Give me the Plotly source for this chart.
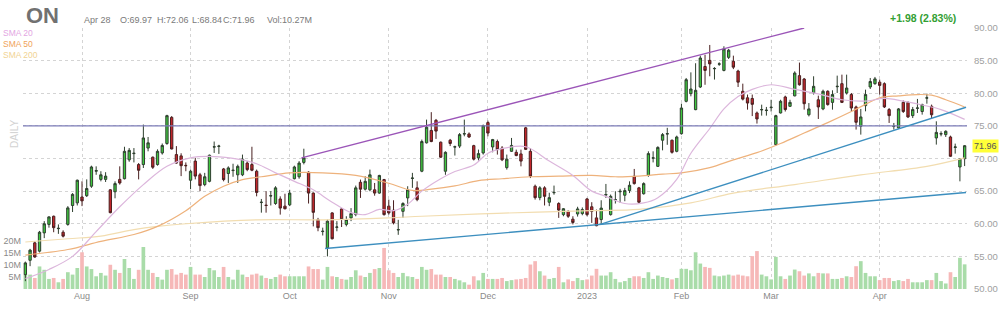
import plotly.graph_objects as go

# ---------------- data ----------------
opens = [
52.2, 54.4, 57.07, 55.8, 58.6, 59.9, 61.15, 59.25, 58.7, 59.9,
62.8, 63.2, 64.1, 64.3, 65.75, 68.05, 66.8, 66.8, 65.2, 64.9,
66.8, 66.9, 69.8, 70.75, 69.07, 69.07, 71.6, 70.2, 69.07, 70.85,
72.3, 76.3, 70.6, 70.4, 68.95, 66.67, 69.6, 67.5, 66.0, 66.5,
71.75, 71.85, 68.4, 67.7, 68.15, 67.5, 67.5, 69.3, 69.07, 68.05,
63.25, 62.85, 64.25, 63.1, 63.8, 62.7, 62.9, 66.9, 67.2, 69.4,
67.9, 64.7, 60.65, 58.8, 56.3, 61.66, 59.45, 62.27, 59.9, 60.9,
61.4, 66.36, 65.3, 65.2, 65.2, 64.7, 66.77, 62.7, 62.07, 59.05,
61.9, 63.96, 66.95, 65.5, 68.05, 72.4, 74.3, 75.85, 72.5, 68.05,
72.8, 71.75, 71.9, 73.75, 73.76, 71.97, 70.1, 70.85, 75.5, 71.77,
72.6, 71.6, 68.6, 71.1, 70.95, 70.7, 74.7, 71.1, 65.75, 64.0,
65.5, 63.3, 64.75, 63.1, 61.4, 61.9, 60.7, 61.5, 61.56, 63.8,
62.6, 60.9, 60.64, 64.4, 61.4, 63.65, 64.9, 64.37, 65.1, 67.28,
65.5, 64.6, 67.4, 70.05, 68.8, 72.8, 73.75, 72.8, 71.1, 73.8,
78.76, 79.94, 77.49, 80.96, 84.1, 85.04, 83.75, 84.45, 83.5, 85.5,
84.9, 83.4, 80.3, 79.3, 79.2, 76.98, 77.45, 77.35, 77.8, 72.13,
76.98, 79.43, 78.0, 79.6, 82.7, 82.18, 76.7, 80.04, 79.0, 77.6,
80.3, 78.6, 81.0, 81.47, 80.04, 79.8, 77.9, 74.94, 78.1, 80.96,
81.47, 81.7, 81.47, 77.5, 74.9, 74.68, 78.6, 78.6, 76.57, 77.7,
77.2, 79.25, 78.0, 73.15, 73.75, 73.66, 73.3, 71.7, 68.7, 69.97,
]
highs = [
54.2, 56.15, 57.3, 58.9, 60.4, 61.15, 61.25, 59.9, 59.0, 62.7,
64.7, 66.77, 66.5, 66.8, 68.9, 68.8, 68.05, 67.9, 65.3, 66.5,
68.8, 71.8, 71.6, 71.6, 69.3, 75.2, 73.3, 70.3, 71.4, 72.3,
76.7, 76.5, 71.9, 70.8, 69.4, 68.3, 70.1, 67.8, 67.8, 70.6,
72.6, 72.1, 68.55, 68.8, 69.2, 69.07, 70.6, 69.6, 71.8, 68.3,
63.8, 65.0, 65.0, 65.75, 64.2, 64.6, 65.2, 68.9, 69.6, 71.5,
68.05, 64.8, 60.9, 59.4, 60.65, 61.76, 60.4, 62.4, 61.15, 62.4,
65.85, 66.77, 67.28, 68.3, 66.25, 67.5, 66.87, 63.7, 63.6, 60.6,
63.3, 65.75, 67.8, 66.5, 72.9, 75.96, 77.1, 76.06, 72.6, 71.1,
73.0, 71.97, 73.9, 75.96, 74.0, 72.1, 71.36, 75.2, 75.8, 73.0,
72.9, 71.9, 70.6, 73.15, 71.36, 71.36, 74.85, 71.6, 66.0, 65.75,
65.75, 64.75, 65.85, 63.3, 62.4, 62.05, 61.15, 62.6, 62.5, 63.96,
63.3, 62.17, 63.6, 66.1, 64.47, 64.98, 65.35, 65.5, 66.5, 68.4,
65.65, 66.35, 71.1, 71.1, 71.87, 73.9, 74.7, 72.9, 73.5, 78.4,
82.34, 83.2, 84.6, 85.76, 85.9, 87.4, 84.0, 84.74, 87.2, 86.8,
85.76, 83.6, 81.47, 79.8, 79.8, 77.2, 78.25, 77.9, 79.0, 76.7,
79.0, 79.63, 79.0, 83.36, 84.7, 82.34, 78.5, 82.6, 79.63, 80.55,
80.45, 80.45, 82.7, 82.85, 82.85, 80.04, 78.1, 77.6, 80.55, 82.34,
82.5, 82.1, 81.67, 77.74, 75.45, 77.74, 78.9, 78.76, 77.9, 79.13,
78.4, 79.94, 78.26, 75.7, 74.17, 74.32, 73.5, 72.28, 69.98, 72.06,
]
lows = [
51.2, 53.5, 54.8, 55.6, 57.8, 59.4, 58.7, 58.45, 57.9, 59.7,
61.8, 62.8, 62.7, 64.1, 65.5, 67.5, 66.5, 66.4, 61.6, 63.9,
66.0, 66.8, 69.5, 69.4, 66.8, 68.55, 71.1, 68.4, 68.9, 70.6,
72.1, 71.4, 69.2, 67.3, 68.05, 65.3, 66.8, 65.0, 65.75, 66.35,
70.85, 70.7, 66.5, 66.25, 67.2, 66.25, 67.3, 68.05, 68.05, 64.2,
61.7, 61.7, 62.8, 62.9, 61.4, 62.2, 62.7, 66.8, 66.9, 69.1,
63.1, 59.6, 58.85, 58.2, 55.0, 57.6, 58.85, 59.5, 59.6, 60.4,
61.15, 63.96, 65.1, 64.98, 64.3, 64.6, 61.25, 61.4, 59.9, 58.3,
60.9, 62.7, 65.5, 63.45, 67.9, 72.3, 72.5, 73.0, 70.1, 67.5,
71.9, 70.45, 71.6, 73.4, 73.15, 69.7, 69.7, 70.6, 73.4, 70.95,
70.6, 69.6, 68.3, 71.0, 70.35, 68.8, 71.3, 67.0, 63.7, 63.6,
62.8, 62.7, 64.45, 60.9, 61.15, 60.9, 59.9, 61.1, 61.3, 61.15,
60.13, 59.62, 59.9, 63.96, 61.25, 63.1, 63.2, 63.45, 64.7, 66.0,
63.1, 64.47, 67.2, 69.4, 68.7, 71.25, 72.1, 70.75, 70.95, 73.66,
78.6, 79.53, 77.4, 80.8, 81.3, 82.6, 82.1, 84.2, 83.36, 85.25,
83.7, 80.96, 78.9, 77.49, 76.5, 75.35, 76.57, 76.57, 77.2, 71.97,
76.9, 77.2, 77.9, 79.53, 81.17, 77.49, 76.45, 79.8, 76.06, 77.4,
78.1, 77.49, 80.04, 78.5, 79.8, 77.23, 74.43, 73.66, 77.23, 80.65,
81.3, 79.8, 77.74, 75.45, 74.43, 74.53, 76.98, 76.2, 76.2, 76.98,
76.72, 78.4, 76.2, 72.13, 73.4, 73.3, 70.25, 70.75, 66.5, 68.84,
]
closes = [
54.0, 55.95, 54.9, 58.7, 60.0, 61.05, 59.4, 59.3, 58.1, 62.43,
64.5, 66.67, 63.5, 65.4, 68.7, 68.15, 67.5, 67.3, 61.7, 66.15,
66.25, 71.1, 71.25, 70.8, 68.2, 73.15, 72.4, 68.66, 71.1, 72.0,
76.57, 71.46, 69.3, 68.9, 68.9, 68.05, 67.3, 65.85, 67.2, 70.5,
71.8, 71.9, 66.76, 68.56, 68.2, 68.8, 69.9, 68.3, 68.2, 64.8,
63.3, 62.8, 64.3, 65.5, 62.4, 62.3, 64.7, 68.7, 69.3, 70.1,
64.7, 61.75, 59.4, 58.85, 60.4, 57.7, 59.5, 60.65, 60.65, 61.56,
65.5, 65.3, 66.5, 67.5, 64.7, 67.4, 61.4, 61.66, 60.13, 59.1,
63.1, 65.2, 67.0, 63.7, 72.6, 74.8, 72.6, 74.2, 70.2, 70.95,
72.3, 71.8, 73.66, 73.8, 73.3, 69.9, 70.75, 75.04, 73.9, 72.9,
71.36, 69.8, 69.9, 72.0, 70.45, 69.6, 71.4, 67.3, 64.0, 65.5,
64.2, 64.0, 64.8, 62.1, 62.3, 61.15, 60.2, 62.27, 62.17, 61.4,
61.9, 59.7, 62.4, 64.47, 64.2, 63.7, 64.98, 65.08, 65.9, 66.15,
63.3, 66.15, 70.75, 70.1, 71.7, 73.66, 73.8, 70.95, 73.3, 77.74,
82.08, 80.65, 80.45, 85.4, 83.5, 84.5, 83.8, 84.5, 86.8, 86.6,
84.0, 81.7, 79.1, 78.5, 78.3, 76.06, 77.5, 77.4, 77.85, 76.57,
78.77, 77.5, 78.6, 83.1, 81.3, 78.4, 77.6, 81.06, 77.9, 80.3,
78.26, 79.8, 81.06, 78.6, 80.8, 77.74, 75.55, 76.37, 79.8, 81.8,
82.2, 81.2, 77.9, 76.57, 74.94, 77.6, 77.2, 76.37, 77.5, 77.74,
78.25, 79.3, 76.7, 74.0, 73.8, 74.17, 70.34, 71.77, 69.98, 71.96,
]
volumes_m = [
6.0, 6.0, 4.6, 9.4, 8.0, 4.2, 4.6, 2.8, 4.2, 7.0,
6.0, 8.75, 15.3, 9.4, 8.3, 5.3, 6.7, 5.6, 10.1, 8.0,
6.7, 12.5, 8.75, 4.2, 8.0, 17.5, 8.0, 6.7, 5.0, 3.9,
8.0, 8.3, 6.0, 6.7, 6.0, 9.2, 6.0, 6.0, 5.0, 8.75,
7.8, 5.0, 9.2, 5.0, 3.9, 8.0, 6.0, 5.0, 6.0, 6.4,
5.6, 4.6, 4.2, 5.0, 6.0, 5.3, 5.3, 5.3, 5.3, 5.3,
9.4, 8.3, 8.3, 3.9, 9.2, 5.3, 5.0, 4.2, 3.9, 5.0,
7.8, 5.6, 5.0, 6.7, 8.3, 8.75, 17.1, 7.8, 6.7, 5.0,
6.7, 5.3, 5.0, 4.2, 9.2, 8.0, 8.3, 6.0, 6.0, 5.0,
5.0, 4.2, 3.6, 2.8, 1.8, 5.3, 3.6, 6.7, 4.2, 4.2,
4.2, 4.6, 3.3, 3.7, 4.0, 4.2, 4.6, 10.2, 11.6, 7.4,
5.6, 4.2, 4.6, 9.2, 2.8, 4.0, 3.3, 4.6, 3.7, 4.0,
5.6, 8.4, 5.6, 5.6, 7.0, 4.2, 2.8, 3.3, 4.6, 5.3,
5.3, 4.6, 7.0, 4.2, 5.6, 5.0, 4.6, 4.0, 4.6, 8.4,
8.4, 7.8, 15.3, 10.6, 9.2, 8.8, 5.6, 5.3, 5.6, 6.0,
5.6, 6.0, 5.6, 5.3, 13.7, 15.8, 6.0, 5.3, 4.0, 13.4,
5.3, 4.2, 5.6, 8.1, 7.4, 5.6, 6.5, 5.3, 6.7, 6.5,
6.5, 4.2, 4.2, 4.6, 5.3, 5.0, 9.5, 11.6, 6.7, 5.3,
5.3, 3.7, 4.6, 4.6, 3.3, 3.7, 3.3, 4.2, 2.8, 2.8,
2.8, 3.7, 3.7, 6.7, 3.3, 2.3, 7.0, 5.0, 13.0, 10.27,
]

# moving averages, read at sample days
sma20_x = [0, 5, 10, 15, 20, 25, 30, 35, 40, 45, 49, 53, 57, 61, 65, 69, 72, 75, 78, 81,
           84, 88, 91, 95, 98, 101, 106, 111, 116, 120, 123, 127, 131, 134, 138, 141, 145,
           148, 151, 154, 158, 163, 168, 173, 178, 182, 186, 190, 194, 199]
sma20_y = [51.6, 53.0, 55.0, 58.8, 62.6, 66.0, 68.8, 70.1, 70.3, 69.9, 69.2, 67.8, 66.5,
           65.2, 63.3, 61.7, 61.4, 62.2, 62.0, 63.0, 65.0, 66.9, 68.0, 69.0, 70.8, 71.5,
           71.8, 69.6, 67.4, 65.0, 64.2, 63.1, 63.2, 64.0, 66.8, 70.8, 74.6, 77.6, 79.5,
           80.6, 81.3, 80.6, 79.9, 79.0, 78.8, 79.2, 78.8, 78.2, 77.5, 76.0]
sma50_x = [0, 9, 16, 23, 28, 34, 38, 42, 46, 50, 56, 63, 70, 77, 82, 86, 91, 96, 101, 107,
           113, 120, 125, 130, 135, 139, 145, 150, 155, 160, 165, 170, 175, 178, 181, 185,
           189, 192, 195, 199]
sma50_y = [55.2, 56.05, 57.3, 58.35, 59.6, 62.0, 64.2, 65.75, 66.77, 67.2, 67.8, 67.8, 67.4,
           66.2, 65.1, 65.3, 65.8, 66.6, 66.9, 67.2, 67.3, 67.4, 67.2, 67.3, 67.6, 67.8,
           68.6, 69.8, 70.9, 72.3, 73.9, 75.5, 77.2, 78.3, 79.3, 79.6, 79.8, 79.7, 79.0, 77.9]
sma200_x = [0, 9, 16, 23, 28, 34, 49, 63, 77, 84, 100, 120, 130, 141, 150, 163, 177, 191, 199]
sma200_y = [57.2, 57.7, 58.1, 59.1, 59.6, 60.0, 60.6, 60.6, 60.9, 61.15, 61.6, 62.0, 62.2,
            63.2, 64.7, 66.0, 67.5, 68.8, 70.1]

# drawn trend lines (day index, price)
upper_channel_x = [58.5, 165.0]
upper_channel_y = [70.1, 90.0]
lower_support_x = [63.5, 199.3]
lower_support_y = [56.2, 64.8]
rising_support_x = [121.8, 199.3]
rising_support_y = [59.9, 77.85]
resistance_level = 75.0

month_ticks = [12, 35, 56, 77, 98, 119, 139, 158, 181]
month_labels = ["Aug", "Sep", "Oct", "Nov", "Dec", "2023", "Feb", "Mar", "Apr"]
price_ticks = [50, 55, 60, 65, 70, 75, 80, 85, 90]
vol_ticks = [5, 10, 15, 20]
vol_labels = ["5M", "10M", "15M", "20M"]

assert len(opens) == len(highs) == len(lows) == len(closes) == len(volumes_m) == 200

# ---------------- layout geometry ----------------
W, H = 1000, 310
ML, MR, MT, MB = 23, 33, 28, 21
PW = W - ML - MR
PH = H - MT - MB


def px(x):
    return (x - ML) / PW


def py(y):
    return (H - MB - y) / PH


FONT = "Liberation Sans, Arial, sans-serif"
idx = list(range(len(closes)))
vol_colors = ["#a9dca9" if c >= o else "#f6b8b8" for o, c in zip(opens, closes)]

fig = go.Figure()

fig.add_trace(go.Bar(x=idx, y=volumes_m, marker=dict(color=vol_colors, line=dict(width=0)),
                     width=0.78, yaxis="y", hoverinfo="skip"))

fig.add_trace(go.Scatter(x=sma200_x, y=sma200_y, mode="lines", yaxis="y2",
                         line=dict(color="#f2ddb0", width=1.2, shape="spline"), hoverinfo="skip"))
fig.add_trace(go.Scatter(x=sma50_x, y=sma50_y, mode="lines", yaxis="y2",
                         line=dict(color="#eeb27c", width=1.2, shape="spline"), hoverinfo="skip"))
fig.add_trace(go.Scatter(x=sma20_x, y=sma20_y, mode="lines", yaxis="y2",
                         line=dict(color="#dcb6dc", width=1.2, shape="spline"), hoverinfo="skip"))

fig.add_trace(go.Scatter(x=[-0.5, 199.5], y=[resistance_level, resistance_level], mode="lines",
                         yaxis="y2", line=dict(color="#7c7cb8", width=1.3), hoverinfo="skip"))
fig.add_trace(go.Scatter(x=upper_channel_x, y=upper_channel_y, mode="lines", yaxis="y2",
                         line=dict(color="#9b55b8", width=1.4), hoverinfo="skip"))
fig.add_trace(go.Scatter(x=lower_support_x, y=lower_support_y, mode="lines", yaxis="y2",
                         line=dict(color="#3d8fbf", width=1.4), hoverinfo="skip"))
fig.add_trace(go.Scatter(x=rising_support_x, y=rising_support_y, mode="lines", yaxis="y2",
                         line=dict(color="#3d8fbf", width=1.4), hoverinfo="skip"))

fig.add_trace(go.Candlestick(
    x=idx, open=opens, high=highs, low=lows, close=closes, yaxis="y2",
    increasing=dict(fillcolor="#3fc83f", line=dict(color="#2f3f2f", width=1)),
    decreasing=dict(fillcolor="#c4262b", line=dict(color="#4a2020", width=1)),
    whiskerwidth=0, hoverinfo="skip"))

HC = "#7a7a7a"
annotations = [
    dict(text="<b>ON</b>", x=px(24), y=py(15), font=dict(size=22, color="#717171")),
    dict(text="Apr 28", x=px(82), y=py(20), font=dict(size=9, color=HC)),
    dict(text="O:69.97", x=px(118), y=py(20), font=dict(size=9, color=HC)),
    dict(text="H:72.06", x=px(155), y=py(20), font=dict(size=9, color=HC)),
    dict(text="L:68.84", x=px(190), y=py(20), font=dict(size=9, color=HC)),
    dict(text="C:71.96", x=px(221), y=py(20), font=dict(size=9, color=HC)),
    dict(text="Vol:10.27M", x=px(265), y=py(20), font=dict(size=9, color=HC)),
    dict(text="SMA 20", x=px(1), y=py(33), font=dict(size=8.5, color="#e3a6e3")),
    dict(text="SMA 50", x=px(1), y=py(44), font=dict(size=8.5, color="#f0a35a")),
    dict(text="SMA 200", x=px(1), y=py(55), font=dict(size=8.5, color="#f1d393")),
]
for a in annotations:
    a.update(xref="paper", yref="paper", xanchor="left", yanchor="middle", showarrow=False)
annotations.append(dict(text="<b>+1.98 (2.83%)</b>", x=px(958), y=py(18), xref="paper", yref="paper",
                        xanchor="right", yanchor="middle", showarrow=False,
                        font=dict(size=10.5, color="#33a033")))
annotations.append(dict(text="DAILY", x=px(14), y=py(134), xref="paper", yref="paper",
                        xanchor="center", yanchor="middle", showarrow=False, textangle=-90,
                        font=dict(size=10, color="#d2d2d2")))
annotations.append(dict(text="71.96", x=px(972), y=closes[-1], xref="paper", yref="y2",
                        xanchor="left", yanchor="middle", showarrow=False, bgcolor="#ffff38",
                        borderpad=1, font=dict(size=9, color="#555555")))

fig.update_layout(
    width=W, height=H,
    margin=dict(l=ML, r=MR, t=MT, b=MB, pad=0, autoexpand=False),
    paper_bgcolor="white", plot_bgcolor="white",
    showlegend=False, bargap=0.2,
    font=dict(family=FONT, size=9, color="#888888"),
    annotations=annotations,
    xaxis=dict(range=[-0.5, 199.5], tickmode="array", tickvals=month_ticks, ticktext=month_labels,
               showgrid=True, gridcolor="#d4d4d4", griddash="dot", gridwidth=1, automargin=False,
               zeroline=False, showline=False, ticks="", rangeslider=dict(visible=False),
               tickfont=dict(size=9, color="#8a8a8a")),
    yaxis=dict(range=[0, PH / 2.4], tickmode="array", tickvals=vol_ticks, ticktext=vol_labels,
               side="left", showgrid=False, zeroline=False, showline=False, ticks="",
               automargin=False, tickfont=dict(size=9, color="#8a8a8a"), ticklabelstandoff=1),
    yaxis2=dict(range=[50, 90], overlaying="y", side="right", tickmode="array",
                tickvals=price_ticks, ticktext=[f"{v:.2f}" for v in price_ticks],
                showgrid=True, gridcolor="#d4d4d4", griddash="dot", gridwidth=1,
                zeroline=False, showline=False, ticks="", ticklabelstandoff=6, automargin=False,
                tickfont=dict(size=9.5, color="#a0a0a0")),
)

fig.write_html("out.html")
